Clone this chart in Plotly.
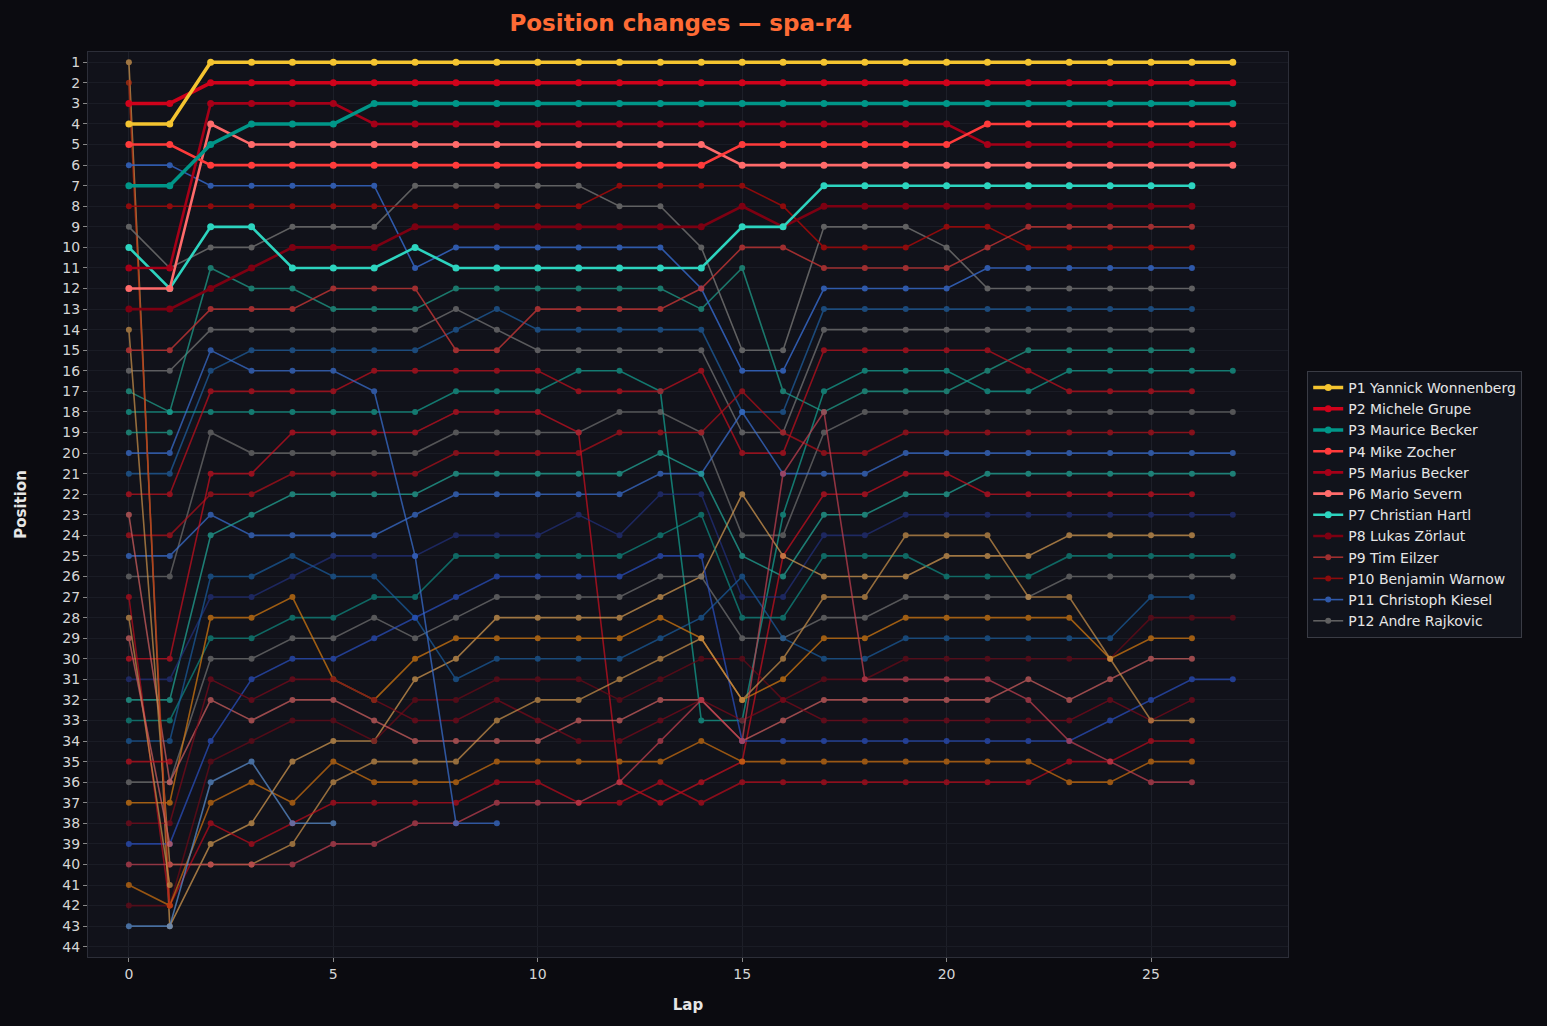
import plotly.graph_objects as go

# highlighted drivers (shown in legend), positions per lap starting at lap 0
p1_wonnenberg = [4, 4] + [1] * 26
p2_grupe = [3, 3] + [2] * 26
p3_becker = [7, 7, 5, 4, 4, 4] + [3] * 22
p4_zocher = [5, 5] + [6] * 13 + [5] * 6 + [4] * 7
p5_becker = [11, 11, 3, 3, 3, 3] + [4] * 15 + [5] * 7
p6_severn = [12, 12, 4] + [5] * 12 + [6] * 13
p7_hartl = [10, 12, 9, 9, 11, 11, 11, 10] + [11] * 7 + [9, 9] + [7] * 10
p8_zoerlaut = [13, 13, 12, 11, 10, 10, 10] + [9] * 8 + [8, 9] + [8] * 10
p9_eilzer = [15, 15, 13, 13, 13, 12, 12, 12, 15, 15, 13, 13, 13, 13, 12, 10, 10, 11, 11, 11, 11, 10, 9, 9, 9, 9, 9]
p10_warnow = [8] * 12 + [7] * 4 + [8, 10, 10, 10, 9, 9] + [10] * 5
p11_kiesel = [6, 6, 7, 7, 7, 7, 7, 11, 10, 10, 10, 10, 10, 10, 12, 16, 16, 12, 12, 12, 12, 11, 11, 11, 11, 11, 11]
p12_rajkovic = [9, 11, 10, 10, 9, 9, 9, 7, 7, 7, 7, 7, 8, 8, 10, 15, 15, 9, 9, 9, 10, 12, 12, 12, 12, 12, 12]

# rest of the field
f13 = [21, 21, 16, 15, 15, 15, 15, 15, 14, 13, 14, 14, 14, 14, 14, 18, 18] + [13] * 10
f14 = [16, 16, 14, 14, 14, 14, 14, 14, 13, 14, 15, 15, 15, 15, 15, 19, 19] + [14] * 10
f15 = [17, 18, 11, 12, 12, 13, 13, 13, 12, 12, 12, 12, 12, 12, 13, 11, 17, 18, 17, 17, 17, 16] + [15] * 5
f16 = [18, 18, 18, 18, 18, 18, 18, 18, 17, 17, 17, 16, 16, 17, 33, 33, 23, 17, 16, 16, 16, 17, 17] + [16] * 5
f17 = [22, 22, 17, 17, 17, 17, 16, 16, 16, 16, 16, 17, 17, 17, 16, 20, 20, 15, 15, 15, 15, 15, 16] + [17] * 4
f18 = [26, 26, 19, 20, 20, 20, 20, 20, 19, 19, 19, 19, 18, 18, 19, 24, 24, 19] + [18] * 10
f19 = [24, 24, 22, 22, 21, 21, 21, 21, 20, 20, 20, 20, 19, 19, 19, 17, 19, 20, 20] + [19] * 8
f20 = [25, 25, 23, 24, 24, 24, 24, 23, 22, 22, 22, 22, 22, 21, 21, 18, 21, 21, 21] + [20] * 9
f21 = [32, 32, 24, 23, 22, 22, 22, 22, 21, 21, 21, 21, 21, 20, 21, 25, 26, 23, 23, 22, 22] + [21] * 7
f22 = [30, 30, 21, 21, 19, 19, 19, 19, 18, 18, 18, 19, 36, 37, 36, 35, 25, 22, 22, 21, 21] + [22] * 6
f23 = [31, 31, 27, 27, 26, 25, 25, 25, 24, 24, 24, 23, 24, 22, 22, 27, 27, 24, 24] + [23] * 9
f24 = [1, 43, 39, 38, 35, 34, 34, 31, 30, 28, 28, 28, 28, 27, 26, 22, 25, 26, 26, 26, 25, 25, 25, 24, 24, 24, 24]
f25 = [33, 33, 29, 29, 28, 28, 27, 27, 25, 25, 25, 25, 25, 24, 23, 28, 28, 25, 25, 25, 26, 26, 26, 25, 25, 25, 25, 25]
f26 = [36, 36, 30, 30, 29, 29, 28, 29, 28, 27, 27, 27, 27, 26, 26, 29, 29, 28, 28, 27, 27, 27, 27, 26, 26, 26, 26, 26]
f27 = [34, 34, 26, 26, 25, 26, 26, 28, 31, 30, 30, 30, 30, 29, 28, 26, 29, 30, 30, 29, 29, 29, 29, 29, 29, 27, 27]
f28 = [42, 42, 35, 34, 33, 33, 34, 32, 32, 31, 31, 31, 32, 31, 30, 30, 32, 31, 31, 30, 30, 30, 30, 30, 30, 28, 28, 28]
f29 = [37, 37, 28, 28, 27, 31, 32, 30, 29, 29, 29, 29, 29, 28, 29, 32, 31, 29, 29, 28, 28, 28, 28, 28, 30, 29, 29]
f30 = [23, 36, 32, 33, 32, 32, 33, 34, 34, 34, 34, 33, 33, 32, 32, 34, 33, 32, 32, 32, 32, 32, 31, 32, 31, 30, 30]
f31 = [39, 39, 34, 31, 30, 30, 29, 28, 27, 26, 26, 26, 26, 25, 25, 34, 34, 34, 34, 34, 34, 34, 34, 34, 33, 32, 31, 31]
f32 = [38, 38, 31, 32, 31, 31, 32, 33, 33, 32, 33, 34, 34, 33, 32, 33, 32, 33, 33, 33, 33, 33, 33, 33, 32, 33, 32]
f33 = [14, 40, 40, 40, 39, 36, 35, 35, 35, 33, 32, 32, 31, 30, 29, 32, 30, 27, 27, 24, 24, 24, 27, 27, 30, 33, 33]
f34 = [27, 42, 38, 39, 38, 37, 37, 37, 37, 36, 36, 37, 37, 36, 37, 36, 36, 36, 36, 36, 36, 36, 36, 35, 35, 34, 34]
f35 = [41, 42, 37, 36, 37, 35, 36, 36, 36, 35, 35, 35, 35, 35, 34, 35, 35, 35, 35, 35, 35, 35, 35, 36, 36, 35, 35]
f36 = [40, 40, 40, 40, 40, 39, 39, 38, 38, 37, 37, 37, 36, 34, 32, 34, 21, 18, 31, 31, 31, 31, 32, 34, 35, 36, 36]
dnf_a = [43, 43, 36, 35, 38, 38]
dnf_b = [20, 20, 15, 16, 16, 16, 17, 25, 38, 38]
dnf_c = [2, 42]
dnf_d = [19, 19]
dnf_e = [28, 41]
dnf_f = [29, 39]
dnf_g = [35, 35]

top_names = ["P1 Yannick Wonnenberg", "P2 Michele Grupe", "P3 Maurice Becker", "P4 Mike Zocher",
             "P5 Marius Becker", "P6 Mario Severn", "P7 Christian Hartl", "P8 Lukas Zörlaut",
             "P9 Tim Eilzer", "P10 Benjamin Warnow", "P11 Christoph Kiesel", "P12 Andre Rajkovic"]
top_series = [p1_wonnenberg, p2_grupe, p3_becker, p4_zocher, p5_becker, p6_severn,
              p7_hartl, p8_zoerlaut, p9_eilzer, p10_warnow, p11_kiesel, p12_rajkovic]
top_colors = ["#f4c430", "#d0021b", "#009688", "#ff3b3b", "#a50018", "#ff6b6b",
              "#2dd4bf", "#7d0012", "#b83434", "#a30a0a", "#3566c4", "#6e6e6e"]
top_widths = [3.5, 3.5, 3.5, 2.6, 2.6, 2.6, 2.6, 2.6, 1.6, 1.6, 1.6, 1.6]

rest_series = [f13, f14, f15, f16, f17, f18, f19, f20, f21, f22, f23, f24, f25, f26, f27, f28,
               f29, f30, f31, f32, f33, f34, f35, f36, dnf_a, dnf_b, dnf_c, dnf_d, dnf_e, dnf_f, dnf_g]
rest_colors = ["#1f5f9f", "#777777", "#1fa08c", "#14a090", "#c0101e", "#6e6e6e", "#b0101a", "#3a6fd0",
               "#22a898", "#c81020", "#22307a", "#d49a50", "#0f8a80", "#727272", "#1a5c9c", "#6a0a18",
               "#d67a10", "#d06060", "#2a50c0", "#7a0a1a", "#c8904a", "#b80c1c", "#cc7010", "#c04050",
               "#5b8fd0", "#3a6fd0", "#b83010", "#1fa08c", "#c8904a", "#d06060", "#c0101e"]

fig = go.Figure()

for vals, col in zip(rest_series, rest_colors):
    fig.add_trace(go.Scatter(
        x=list(range(len(vals))), y=vals, mode="lines+markers",
        line=dict(color=col, width=1.6), marker=dict(size=6, color=col),
        opacity=0.72, showlegend=False, hoverinfo="skip"
    ))

# add highlighted ones last so they sit on top; P1 ends up drawn last
for name, vals, col, w in reversed(list(zip(top_names, top_series, top_colors, top_widths))):
    fig.add_trace(go.Scatter(
        x=list(range(len(vals))), y=vals, mode="lines+markers", name=name,
        line=dict(color=col, width=w), marker=dict(size=7 if w > 2 else 6, color=col),
        opacity=1.0 if w > 2 else 0.85
    ))

axis_font = dict(family="DejaVu Sans", size=14, color="#d6d6d6")

fig.update_layout(
    width=1547, height=1026,
    paper_bgcolor="#0b0b10",
    plot_bgcolor="#11121a",
    font=dict(family="DejaVu Sans", color="#e0e0e0"),
    title=dict(text="<b>Position changes — spa-r4</b>", x=0.44, xref="container", y=0.978,
               yanchor="middle", font=dict(size=23, color="#ff6b35")),
    margin=dict(l=88, r=259, t=52, b=69),
    legend=dict(x=1.016, y=0.5, xanchor="left", yanchor="middle", traceorder="reversed",
                bgcolor="#11131b", bordercolor="#3a3c45", borderwidth=1,
                font=dict(size=14, color="#e6e6e6")),
    xaxis=dict(title=dict(text="<b>Lap</b>", font=dict(size=15, color="#e6e6e6"), standoff=18),
               range=[-1, 28.35], tickvals=[0, 5, 10, 15, 20, 25], tickfont=axis_font,
               showgrid=True, gridcolor="#1d1f28", zeroline=False,
               showline=True, linecolor="#2c2e38", mirror=True, ticks="outside",
               tickcolor="#888888", ticklen=4),
    yaxis=dict(title=dict(text="<b>Position</b>", font=dict(size=15, color="#e6e6e6"), standoff=32),
               range=[44.5, 0.5], tickvals=list(range(1, 45)), tickfont=axis_font,
               showgrid=True, gridcolor="#1a1c25", zeroline=False,
               showline=True, linecolor="#2c2e38", mirror=True, ticks="outside",
               tickcolor="#888888", ticklen=4),
)

fig.write_html("out.html", config={"displayModeBar": False},
               post_script="document.body.style.margin='0';")
